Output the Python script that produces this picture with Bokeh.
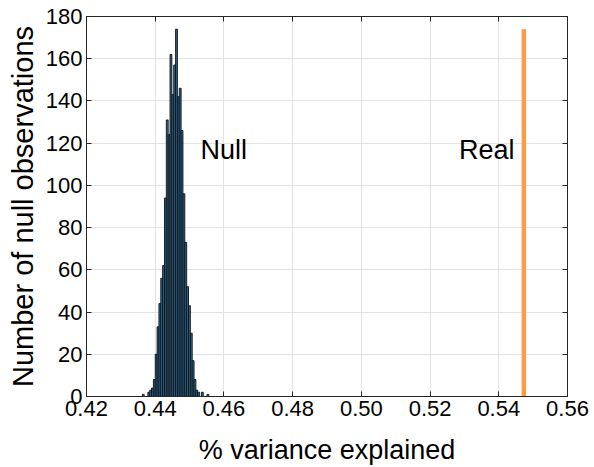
from bokeh.plotting import figure
from bokeh.models import (FixedTicker, NumeralTickFormatter, LinearAxis, Range1d,
                          ColumnDataSource, Label)
from bokeh.embed import file_html
from bokeh.resources import INLINE

# ---- data ----
bin_start = 0.43624
bin_width = 0.000538
null_counts = [1, 0, 0, 2, 3, 4, 8, 20, 33, 44, 56, 62, 94, 131, 124, 162, 143, 157,
               174, 142, 146, 126, 96, 73, 52, 43, 30, 17, 8, 3, 2, 0, 2, 0, 0, 1]
real_value = 0.5473
real_height = 174
x_ticks = [0.42, 0.44, 0.46, 0.48, 0.50, 0.52, 0.54, 0.56]
y_ticks = [0, 20, 40, 60, 80, 100, 120, 140, 160, 180]
null_label = ("Null", 0.4532, 117)
real_label = ("Real", 0.5284, 117)

FONT = "Liberation Sans"
AX = "#262626"

lefts = [bin_start + i * bin_width for i in range(len(null_counts))]
rights = [l + bin_width for l in lefts]
src = ColumnDataSource(dict(left=lefts, right=rights, top=null_counts,
                            bottom=[0] * len(null_counts)))

p = figure(width=594, height=467, output_backend="svg", toolbar_location=None,
           x_range=Range1d(0.42, 0.56), y_range=Range1d(0, 180),
           min_border_left=86, min_border_right=27, min_border_top=16,
           min_border_bottom=70)
p.background_fill_color = "white"
p.border_fill_color = "white"
p.outline_line_color = AX
p.outline_line_width = 1

p.quad(left="left", right="right", top="top", bottom="bottom", source=src,
       fill_color="#2a6896", fill_alpha=1.0, line_color="#111111", line_width=0.9)

p.segment(x0=[real_value], y0=[0], x1=[real_value], y1=[real_height],
          line_color="#F89B4B", line_width=4.5, line_cap="butt")

for txt, x, y in (null_label, real_label):
    p.add_layout(Label(x=x, y=y, text=txt, text_font=FONT, text_font_size="27px",
                       text_baseline="middle", text_align="left", text_color="black"))

# axes
for ax in (p.xaxis[0], p.yaxis[0]):
    ax.axis_line_color = AX
    ax.major_tick_line_color = AX
    ax.major_tick_in = 5
    ax.major_tick_out = 0
    ax.minor_tick_line_color = None
    ax.major_label_text_font = FONT
    ax.major_label_text_font_size = "22px"
    ax.major_label_text_color = "black"
    ax.axis_label_text_font = FONT
    ax.axis_label_text_font_style = "normal"
    ax.axis_label_text_color = "black"

p.xaxis[0].ticker = FixedTicker(ticks=x_ticks)
p.xaxis[0].formatter = NumeralTickFormatter(format="0.00")
p.xaxis[0].axis_label = "% variance explained"
p.xaxis[0].axis_label_text_font_size = "27px"
p.xaxis[0].major_label_standoff = 4
p.xaxis[0].axis_label_standoff = 16

p.yaxis[0].ticker = FixedTicker(ticks=y_ticks)
p.yaxis[0].axis_label = "Number of null observations"
p.yaxis[0].axis_label_text_font_size = "29px"
p.yaxis[0].major_label_standoff = 4
p.yaxis[0].axis_label_standoff = 4

top_ax = LinearAxis(ticker=FixedTicker(ticks=x_ticks))
right_ax = LinearAxis(ticker=FixedTicker(ticks=y_ticks))
for ax in (top_ax, right_ax):
    ax.axis_line_color = AX
    ax.major_tick_line_color = AX
    ax.major_tick_in = 5
    ax.major_tick_out = 0
    ax.minor_tick_line_color = None
    ax.major_label_text_font_size = "0px"
    ax.major_label_standoff = 0
p.add_layout(top_ax, "above")
p.add_layout(right_ax, "right")

p.xgrid.ticker = FixedTicker(ticks=x_ticks)
p.ygrid.ticker = FixedTicker(ticks=y_ticks)
p.grid.grid_line_color = "#e3e3e3"
p.grid.grid_line_width = 1

open("out.html", "w").write(file_html(p, INLINE))
